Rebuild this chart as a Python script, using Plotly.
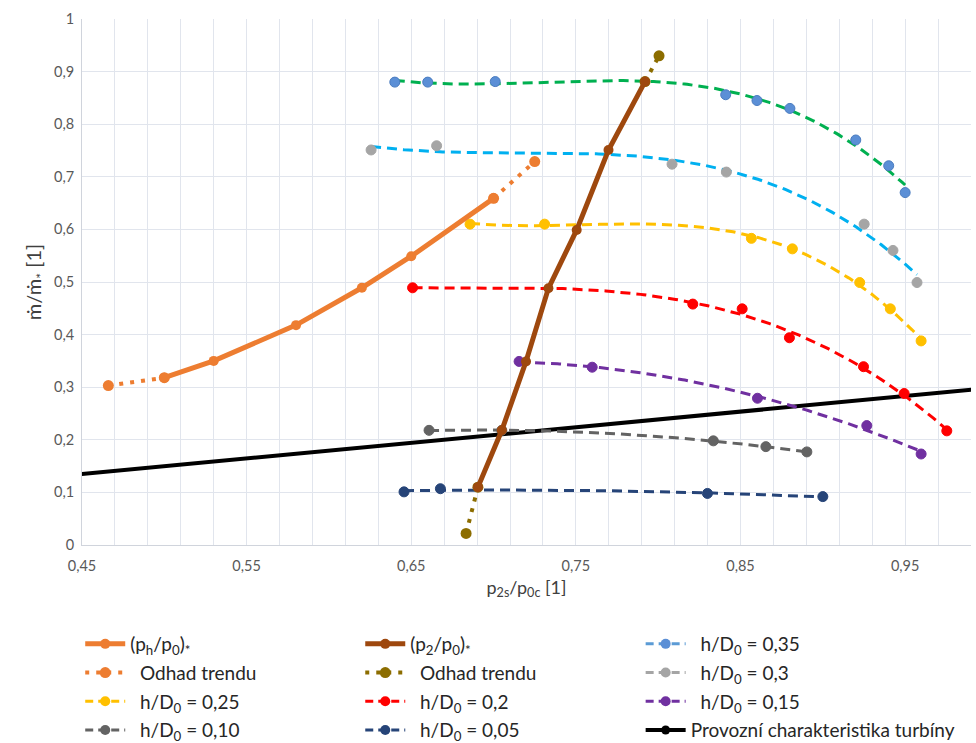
import numpy as np
import plotly.graph_objects as go

# ---- data -------------------------------------------------------------
# (p_h/p_0)* critical curve
ph_x = [0.50, 0.53, 0.58, 0.62, 0.65, 0.70]
ph_y = [0.318, 0.350, 0.418, 0.489, 0.549, 0.659]
# trend estimate for (p_h/p_0)* (two extrapolated segments)
ph_est_x = [0.466, 0.50, None, 0.70, 0.725]
ph_est_y = [0.303, 0.318, None, 0.659, 0.729]

# (p_2/p_0)* critical curve
p2_x = [0.6905, 0.705, 0.7197, 0.7333, 0.7505, 0.7698, 0.792]
p2_y = [0.110, 0.218, 0.349, 0.488, 0.599, 0.751, 0.881]
# trend estimate for (p_2/p_0)*
p2_est_x = [0.6833, 0.6905, None, 0.792, 0.8005]
p2_est_y = [0.022, 0.110, None, 0.881, 0.930]

# measured series for individual h/D0
hd35_x = [0.640, 0.660, 0.701, 0.841, 0.860, 0.880, 0.920, 0.940, 0.950]
hd35_y = [0.880, 0.880, 0.881, 0.856, 0.845, 0.830, 0.770, 0.721, 0.670]

hd30_x = [0.6256, 0.6654, 0.8084, 0.8414, 0.9251, 0.9426, 0.9572]
hd30_y = [0.751, 0.759, 0.724, 0.709, 0.610, 0.560, 0.499]

hd25_x = [0.6857, 0.731, 0.8566, 0.8815, 0.9224, 0.941, 0.9597]
hd25_y = [0.610, 0.610, 0.583, 0.563, 0.499, 0.449, 0.388]

hd20_x = [0.6508, 0.821, 0.851, 0.8797, 0.9247, 0.9494, 0.9753]
hd20_y = [0.489, 0.458, 0.449, 0.394, 0.339, 0.288, 0.217]

hd15_x = [0.7155, 0.7599, 0.8603, 0.9267, 0.9597]
hd15_y = [0.349, 0.338, 0.279, 0.227, 0.173]

hd10_x = [0.6608, 0.705, 0.8335, 0.8654, 0.8903]
hd10_y = [0.218, 0.218, 0.198, 0.187, 0.177]

hd05_x = [0.6456, 0.6677, 0.8299, 0.900]
hd05_y = [0.101, 0.107, 0.098, 0.092]

# turbine operating characteristic
turb_x = [0.40, 1.05]
turb_y = [0.120, 0.313]

# axis ticks
x_tick_vals = [0.45, 0.55, 0.65, 0.75, 0.85, 0.95]
x_tick_text = ["0,45", "0,55", "0,65", "0,75", "0,85", "0,95"]
y_tick_vals = [0, 0.1, 0.2, 0.3, 0.4, 0.5, 0.6, 0.7, 0.8, 0.9, 1.0]
y_tick_text = ["0", "0,1", "0,2", "0,3", "0,4", "0,5", "0,6", "0,7", "0,8", "0,9", "1"]

FONT = "Lato"
SP = "\u00a0\u00a0"

# h/D0 series: name, x, y, marker colour, trendline colour, legend line colour,
# polynomial degree of the trendline, legend column, row
series = [
    ("h/D<sub>0</sub> = 0,35", hd35_x, hd35_y, "#5B8FD6", "#00B050", "#5B9BD5", 3, "legend3", 1),
    ("h/D<sub>0</sub> = 0,3", hd30_x, hd30_y, "#A5A5A5", "#00B0F0", "#A5A5A5", 3, "legend3", 2),
    ("h/D<sub>0</sub> = 0,25", hd25_x, hd25_y, "#FFC000", "#FFC000", "#FFC000", 3, "legend", 3),
    ("h/D<sub>0</sub> = 0,2", hd20_x, hd20_y, "#FF0000", "#FF0000", "#FF0000", 3, "legend2", 3),
    ("h/D<sub>0</sub> = 0,15", hd15_x, hd15_y, "#7030A0", "#7030A0", "#7030A0", 2, "legend3", 3),
    ("h/D<sub>0</sub> = 0,10", hd10_x, hd10_y, "#636363", "#636363", "#636363", 2, "legend", 4),
    ("h/D<sub>0</sub> = 0,05", hd05_x, hd05_y, "#264478", "#264478", "#264478", 2, "legend2", 4),
]

DASH = "10px,6px"

fig = go.Figure()

# operating characteristic (drawn first, below the rest)
fig.add_trace(go.Scatter(
    x=turb_x, y=turb_y, mode="lines+markers",
    line=dict(color="black", width=4), marker=dict(color="black", size=9),
    name="Provozní charakteristika turbíny", legend="legend3", legendrank=4,
    legendgroup="turb",
))

# polynomial trendlines of the h/D0 series
for name, xs, ys, mcol, tcol, lcol, deg, leg, rank in series:
    coef = np.polyfit(xs, ys, deg)
    xf = np.linspace(min(xs), max(xs), 200)
    fig.add_trace(go.Scatter(
        x=xf, y=np.polyval(coef, xf), mode="lines",
        line=dict(color=tcol, width=3, dash=DASH),
        showlegend=False, hoverinfo="skip",
    ))

# measured points of the h/D0 series
for name, xs, ys, mcol, tcol, lcol, deg, leg, rank in series:
    edge = "#4A7CC0" if mcol == "#5B8FD6" else mcol
    fig.add_trace(go.Scatter(
        x=xs, y=ys, mode="markers",
        marker=dict(color=mcol, size=10, line=dict(color=edge, width=1)),
        name=name, legendgroup=name, showlegend=False,
    ))
    # legend entry: dashed line with marker
    fig.add_trace(go.Scatter(
        x=[None], y=[None], mode="lines+markers",
        line=dict(color=lcol, width=3, dash="8px,5px"),
        marker=dict(color=mcol, size=10),
        name=SP + name, legendgroup=name, legend=leg, legendrank=rank,
    ))

# trend estimates
fig.add_trace(go.Scatter(
    x=ph_est_x, y=ph_est_y, mode="lines+markers",
    line=dict(color="#ED7D31", width=4, dash="4px,7px"),
    marker=dict(color="#ED7D31", size=11),
    name=SP + "Odhad trendu", legend="legend", legendrank=2, legendgroup="ph_est",
))
fig.add_trace(go.Scatter(
    x=p2_est_x, y=p2_est_y, mode="lines+markers",
    line=dict(color="#8C6D00", width=4, dash="4px,7px"),
    marker=dict(color="#8C6D00", size=11),
    name=SP + "Odhad trendu", legend="legend2", legendrank=2, legendgroup="p2_est",
))

# critical curves
fig.add_trace(go.Scatter(
    x=ph_x, y=ph_y, mode="lines+markers",
    line=dict(color="#ED7D31", width=5), marker=dict(color="#ED7D31", size=10),
    name="(p<sub>h</sub>/p<sub>0</sub>)<sub>*</sub>", legend="legend", legendrank=1,
    legendgroup="ph",
))
fig.add_trace(go.Scatter(
    x=p2_x, y=p2_y, mode="lines+markers",
    line=dict(color="#9E480E", width=5), marker=dict(color="#9E480E", size=10),
    name="(p<sub>2</sub>/p<sub>0</sub>)<sub>*</sub>", legend="legend2", legendrank=1,
    legendgroup="p2",
))

GRID = "#E1E5ED"
LEG_TOP = -0.1521


def col_legend(xpos):
    return dict(
        orientation="v", x=xpos, y=LEG_TOP, xanchor="left", yanchor="top",
        itemwidth=40, tracegroupgap=1,
        font=dict(family=FONT, size=19, color="#262626"),
        bgcolor="rgba(0,0,0,0)", traceorder="grouped",
    )


fig.update_layout(
    width=976, height=743,
    margin=dict(l=82, r=5, t=19, b=198, autoexpand=False),
    paper_bgcolor="white", plot_bgcolor="white",
    font=dict(family=FONT, color="#595959"),
    showlegend=True,
    legend=col_legend(-0.002),
    legend2=col_legend(0.3130),
    legend3=col_legend(0.6284),
    xaxis=dict(
        range=[0.45, 0.99], tickmode="array",
        tickvals=x_tick_vals, ticktext=x_tick_text,
        tickfont=dict(size=14.5, color="#595959"), ticklabelstandoff=8,
        showgrid=True, gridcolor=GRID, gridwidth=1,
        minor=dict(tickmode="linear", tick0=0.45, dtick=0.02, showgrid=True,
                   gridcolor=GRID, gridwidth=1),
        showline=True, linecolor="#D0D4DC", linewidth=1,
        zeroline=False, ticks="", automargin=False,
        title=dict(text="p<sub>2s</sub>/p<sub>0c</sub> [1]",
                   font=dict(size=18, color="#404040"), standoff=7),
    ),
    yaxis=dict(
        range=[0, 1], tickmode="array",
        tickvals=y_tick_vals, ticktext=y_tick_text,
        tickfont=dict(size=14.5, color="#595959"), ticklabelstandoff=4,
        showgrid=True, gridcolor=GRID, gridwidth=1,
        showline=True, linecolor="#D0D4DC", linewidth=1,
        zeroline=False, ticks="", automargin=False,
        title=dict(text="ṁ/ṁ<sub>*</sub> [1]",
                   font=dict(size=20, color="#404040"), standoff=6),
    ),
)

fig.write_html("out.html")
